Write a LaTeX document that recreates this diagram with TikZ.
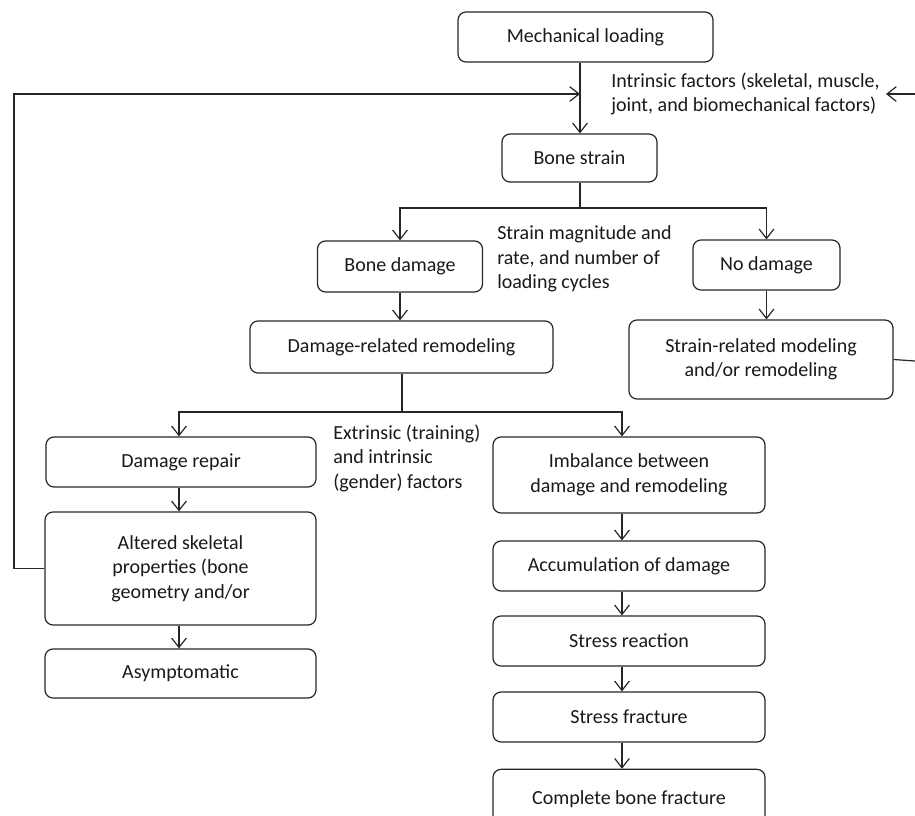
\documentclass[tikz,border=0pt]{standalone}
\usepackage{fontspec}
\setmainfont{Carlito}
\usetikzlibrary{arrows.meta}
\begin{document}
\begin{tikzpicture}[x=0.75pt,y=-0.75pt,
  every node/.style={font=\fontsize{15}{18.4}\selectfont, text=black!90},
  flowbox/.style={draw=black!85, line width=0.9pt, rounded corners=6pt, align=center, inner sep=0pt},
  lbl/.style={align=left, anchor=west, inner sep=0pt},
  conn/.style={draw=black!85, line width=0.9pt},
  arr/.style={conn, -{Straight Barb[length=7pt,width=11pt,line width=0.9pt]}}
]
\useasboundingbox (0,0) rectangle (915,816);

% boxes
\node[flowbox, minimum width=191.25pt, minimum height=37.5pt] (ML) at (585.5,37) {Mechanical loading};
\node[flowbox, minimum width=116.25pt, minimum height=36pt] (BS) at (579.5,158) {Bone strain};
\node[flowbox, minimum width=123.75pt, minimum height=38.25pt] (BD) at (400,266.5) {Bone damage};
\node[flowbox, minimum width=110.25pt, minimum height=37.5pt] (ND) at (766.5,265) {No damage};
\node[flowbox, minimum width=227.25pt, minimum height=39pt] (DRR) at (401.5,347) {Damage-related remodeling};
\node[flowbox, minimum width=198pt, minimum height=59.25pt] (SRM) at (761,359.5) {Strain-related modeling\\and/or remodeling};
\node[flowbox, minimum width=202.5pt, minimum height=37.5pt] (DR) at (181,462) {Damage repair};
\node[flowbox, minimum width=203.25pt, minimum height=84.75pt] (ASP) at (180.5,568.5) {Altered skeletal\\properties (bone\\geometry and/or};
\node[flowbox, minimum width=203.25pt, minimum height=36.75pt] (ASY) at (180.5,673.5) {Asymptomatic};
\node[flowbox, minimum width=204pt, minimum height=57pt] (IMB) at (629,475) {Imbalance between\\damage and remodeling};
\node[flowbox, minimum width=204pt, minimum height=37.5pt] (ACC) at (629,566) {Accumulation of damage};
\node[flowbox, minimum width=204pt, minimum height=37.5pt] (SR) at (629,641) {Stress reaction};
\node[flowbox, minimum width=204pt, minimum height=37.5pt] (SF) at (629,717) {Stress fracture};
\node[flowbox, minimum width=204pt, minimum height=46pt] (CBF) at (629,800) {\raisebox{3.5pt}{Complete bone fracture}};

% labels
\node[lbl] (lIn) at (611,94) {Intrinsic factors (skeletal, muscle,\\joint, and biomechanical factors)};
\node[lbl] (lSt) at (497,259) {Strain magnitude and\\rate, and number of\\loading cycles};
\node[lbl] (lEx) at (333,458) {Extrinsic (training)\\and intrinsic\\(gender) factors};

% helper coordinates
\coordinate (colM) at (580,0);
\coordinate (colR) at (622,0);
\coordinate (join) at (580,94);
\coordinate (fbL) at (14,94);
\coordinate (inR) at (915,94);
\coordinate (inTip) at (886,94);
\coordinate (srmR) at (915,361);
\coordinate (s1) at (580,208);
\coordinate (s2) at (402,412);

% connectors
\draw[arr] (ML.south -| colM) -- (BS.north -| colM);
\draw[arr] (ASP.west) -| (fbL) -- (join);
\draw[arr] (inR) -- (inTip);
\draw[conn] (SRM.east) -- (srmR);

\draw[conn] (BS.south -| colM) -- (s1);
\draw[arr] (s1) -| (BD.north);
\draw[arr] (s1) -| (ND.north);
\draw[arr] (BD.south) -- (DRR.north -| BD.south);
\draw[arr] (ND.south) -- (SRM.north -| ND.south);

\draw[conn] (DRR.south -| s2) -- (s2);
\draw[arr] (s2) -| (DR.north -| 179,0);
\draw[arr] (s2) -| (IMB.north -| colR);
\draw[arr] (DR.south -| 179,0) -- (ASP.north -| 179,0);
\draw[arr] (ASP.south -| 179,0) -- (ASY.north -| 179,0);

\draw[arr] (IMB.south -| colR) -- (ACC.north -| colR);
\draw[arr] (ACC.south -| colR) -- (SR.north -| colR);
\draw[arr] (SR.south -| colR) -- (SF.north -| colR);
\draw[arr] (SF.south -| colR) -- (CBF.north -| colR);
\end{tikzpicture}
\end{document}
